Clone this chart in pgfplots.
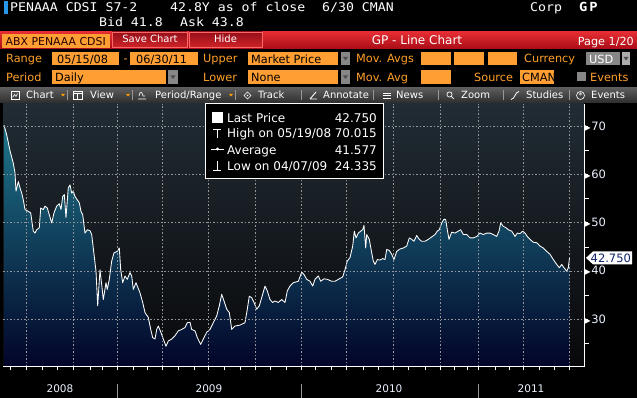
\documentclass[border=0pt]{standalone}
\usepackage{pgfplots}
\pgfplotsset{compat=1.18}
\usepackage{pgfplotstable}
\usepackage{fontspec}
\setmainfont{DejaVu Sans}
\newfontfamily\mono[FakeStretch=1.1]{DejaVu Sans Mono}
\definecolor{bbamber}{RGB}{255,160,40}
\definecolor{bbbox}{RGB}{255,158,50}
\definecolor{bbredtop}{RGB}{228,45,50}
\definecolor{bbredbot}{RGB}{170,12,22}
\definecolor{btntop}{RGB}{150,15,25}
\definecolor{btnbot}{RGB}{205,35,40}
\definecolor{tbtop}{RGB}{92,92,92}
\definecolor{tbbot}{RGB}{45,45,45}
\definecolor{plottop}{RGB}{33,44,52}
\definecolor{plotbot}{RGB}{8,8,10}
\definecolor{filltop}{RGB}{30,118,138}
\definecolor{fillmid}{RGB}{12,72,102}
\definecolor{fillbot}{RGB}{2,4,40}
\definecolor{gridc}{RGB}{150,150,155}
\definecolor{ticklab}{RGB}{235,242,255}
\definecolor{cursorc}{RGB}{40,150,235}
\definecolor{ddgrey}{RGB}{135,135,135}
\definecolor{lpnavy}{RGB}{15,35,110}
\definecolor{sepc}{RGB}{150,150,150}

\pgfplotstableread{
x y
4 70.3
6.7 68.3
10 65.0
13.3 62.4
15 60.4
16 56.6
18.3 58.6
20 57.3
21.7 56.2
23.3 54.8
25 52.8
28.3 52.4
30.7 52.1
33.3 48.3
35 47.9
36.7 48.6
39.3 49.0
40.7 53.1
43.3 52.8
45 53.5
47.3 53.1
49.3 51.7
51.7 50.0
54 52.1
56.7 53.5
59.3 54.0
61 52.8
62.7 55.5
64.3 55.9
66 51.1
68.3 57.3
70 57.9
71.7 56.2
73.3 56.6
75 55.5
77.3 54.8
79.3 54.2
81 52.4
82.7 51.7
85 47.9
87.3 48.6
90 48.4
91.7 47.6
94 43.5
96 40.0
97.7 32.8
100 40.3
101.7 37.2
103.3 34.1
106 37.6
107.3 36.2
109.3 38.3
111.7 42.1
114 43.8
117.3 44.1
119.3 44.8
120.7 40.3
122.7 37.6
125 39.0
127.3 38.3
130 39.7
131.7 39.0
133.3 36.2
136 37.6
137.3 36.9
140 35.5
142.7 33.5
145 31.4
148.3 30.4
150.7 27.9
152.7 26.2
155 25.9
156.7 27.9
158.3 28.6
160.7 27.4
163.3 25.9
166 24.4
168.3 25.5
171.7 25.9
175 26.6
178.3 27.6
181.7 27.9
185 28.3
187.3 29.3
190 29.4
191.7 27.9
195 27.6
197.3 26.2
200.7 24.8
203.3 25.9
206.7 27.3
210 27.9
213.3 29.3
216.7 30.7
219.3 32.8
221.7 35.2
224 33.8
226.7 32.1
229.3 31.4
231.7 27.9
235 28.6
240 28.8
245 29.3
247.3 32.1
249.3 34.8
251.7 34.5
254 33.5
256.7 32.1
259.3 32.8
261.7 34.5
265 36.9
267.3 35.9
270 34.1
272.7 33.5
275 33.8
278.3 33.5
281.7 34.1
285 33.5
287.3 35.9
290 36.9
293.3 37.6
298.3 37.9
301.7 39.8
304 39.3
306.7 38.3
310 37.9
312.7 36.9
315 38.3
318.3 39.0
320.7 37.9
324 38.4
327.3 38.3
331.7 37.9
335 37.9
339.3 38.4
342.7 38.8
345 40.3
347.3 42.1
350 42.8
352.7 45.2
354.3 48.3
356 46.9
358.3 47.9
360.7 48.3
362.7 48.6
364 49.5
365.7 44.8
366.7 47.6
369.3 46.6
371.7 43.8
373.3 42.1
375 41.4
377.3 42.4
380 42.3
382.7 42.6
385 42.4
386.7 44.5
389.3 44.3
391.7 43.5
394 42.4
396.7 44.1
400 44.6
403.3 44.8
406.7 45.2
409.3 46.9
411.7 46.6
414 46.2
416.7 47.4
419.3 46.6
421.7 46.2
425 46.2
428.3 46.6
431.7 47.1
435 47.6
437.3 48.3
439.3 48.6
441.7 50.0
444 50.8
445.7 50.7
447.3 48.6
449 46.6
451.7 48.1
455 47.9
458.3 48.3
460.7 48.6
463.3 47.6
466.7 47.6
470 46.9
473.3 46.9
476.7 47.2
480 47.9
483.3 47.6
486.7 47.9
490 47.9
493.3 47.6
496.7 47.2
499 48.3
500.7 50.0
503.3 49.3
506 49.0
508.3 48.6
511.7 48.3
515 47.2
517.3 47.9
520 47.8
522.7 48.3
525 47.9
527.3 47.2
530 46.6
533.3 46.0
536.7 45.9
540 45.2
543.3 44.8
546.7 44.1
550 43.5
553.3 42.4
556.7 41.4
559.3 40.7
561.7 41.4
564 40.7
566.7 40.0
568.3 40.7
569.5 42.75
}\pricedata

\begin{document}
\begin{tikzpicture}
\begin{scope}[x=1pt,y=1pt]
\fill[black] (0,0) rectangle (637,398);
\shade[top color=plottop, bottom color=plotbot] (3,294) rectangle (584,31);
\end{scope}
\useasboundingbox (0pt,0pt) rectangle (637pt,398pt);

% ---------- chart ----------
\begin{axis}[
  at={(3pt,294pt)}, anchor=north west,
  scale only axis, width=581pt, height=263pt,
  xmin=3, xmax=584, ymin=20.1, ymax=74.7,
  no markers,
  axis x line*=bottom, axis y line*=right,
  axis line style={white, line width=1pt},
  xtick={26.4,73.6,117.5,162.6,208.5,255.7,301.2,346.7,393.5,440.7,478.9,523.6,569.9},
  xticklabel=\empty,
  minor xtick={10.2,42.7,57.7,90.2,102.8,133.3,147.2,178.9,194.3,224.8,240.7,270.7,286.2,315.4,331.3,363,378.5,408.9,425.2,454.9,467,495.1,509.8,539.8,554.5},
  ytick={30,40,50,60,70},
  minor ytick={25,35,45,55,65},
  tick align=outside,
  major tick length=3.5pt, minor tick length=3.5pt,
  every tick/.style={white, line width=1pt},
  /pgf/number format/assume math mode=true,
  yticklabel style={anchor=west, inner sep=0pt, xshift=-3pt, text=ticklab, font=\fontsize{11.5}{12}\selectfont},
  yticklabel={\textcolor{white}{\fontsize{8}{8}\selectfont ▶}\hspace{0.5pt}\pgfmathprintnumber{\tick}},
]
\addplot[draw=none, top color=filltop, middle color=fillmid, bottom color=fillbot]
  table {\pricedata} -- (axis cs:569.5,20.1) -- (axis cs:4,20.1) -- cycle;
\addplot[white, line width=0.85pt, line join=round] table {\pricedata};
\coordinate (lp) at (axis cs:584,42.75);
\end{axis}

\begin{scope}[x=1pt,y=1pt]
% ---------- header ----------
\fill[cursorc] (3.5,397) rectangle (7.5,384);
\node[anchor=base west, inner sep=0, text=white, font=\mono\fontsize{12}{12}\selectfont] at (10,386) {PENAAA CDSI S7-2};
\node[anchor=base west, inner sep=0, text=white, font=\mono\fontsize{12}{12}\selectfont] at (170,386) {42.8Y as of close};
\node[anchor=base west, inner sep=0, text=white, font=\mono\fontsize{12}{12}\selectfont] at (322,386) {6/30 CMAN};
\node[anchor=base west, inner sep=0, text=white, font=\mono\fontsize{12}{12}\selectfont] at (530,386) {Corp};
\node[anchor=base west, inner sep=0, text=white, font=\mono\bfseries\fontsize{12.5}{12}\selectfont] at (579,386) {G\hspace{2pt}P};
\node[anchor=base west, inner sep=0, text=white, font=\mono\fontsize{12}{12}\selectfont] at (99,371) {Bid 41.8};
\node[anchor=base west, inner sep=0, text=white, font=\mono\fontsize{12}{12}\selectfont] at (180,371) {Ask 43.8};

% ---------- red bar ----------
\shade[top color=bbredtop, bottom color=bbredbot] (0,366) rectangle (637,349);
\fill[bbbox] (2,364) rectangle (110,350);
\node[anchor=base west, inner sep=0, text=black!85!red, font=\fontsize{10.9}{11}\selectfont] at (5.5,352.5) {ABX PENAAA CDSI};
\shade[top color=btntop, bottom color=btnbot, draw=red!60!white, line width=0.4pt] (112,366) rectangle (187,351);
\shade[top color=btntop, bottom color=btnbot, draw=red!60!white, line width=0.4pt] (189,366) rectangle (262,351);
\node[anchor=base, inner sep=0, text=white, font=\fontsize{10}{10}\selectfont] at (150,355.3) {Save Chart};
\node[anchor=base, inner sep=0, text=white, font=\fontsize{10}{10}\selectfont] at (225.5,355.3) {Hide};
\node[anchor=base, inner sep=0, text=white, font=\fontsize{12}{12}\selectfont] at (417,353) {GP - Line Chart};
\node[anchor=base east, inner sep=0, text=white, font=\fontsize{11.2}{11}\selectfont] at (634,352.3) {Page 1/20};

% ---------- option rows ----------
\tikzset{lab/.style={anchor=base west, inner sep=0, text=bbamber, font=\fontsize{11.3}{11}\selectfont},
         boxt/.style={anchor=base west, inner sep=0, text=black, font=\fontsize{11.3}{11}\selectfont}}
\node[lab] at (6,335) {Range};
\fill[bbbox] (52,346.3) rectangle (119,333);
\node[boxt] at (57,334.5) {05/15/08};
\node[lab] at (123.5,335) {-};
\fill[bbbox] (130,346.3) rectangle (198,333);
\node[boxt] at (136,334.5) {06/30/11};
\node[lab] at (203,335) {Upper};
\fill[bbbox] (248,346.3) rectangle (338,333);
\node[boxt] at (251,334.5) {Market Price};
\fill[ddgrey] (341,346.3) rectangle (350,333);
\fill[black!70] (343,341) -- (348,341) -- (345.5,337.5) -- cycle;
\node[lab] at (356,335) {Mov. Avgs};
\fill[bbbox] (421,346.3) rectangle (451,333);
\fill[bbbox] (454,346.3) rectangle (484,333);
\fill[bbbox] (488,346.3) rectangle (517,333);
\node[lab] at (524,335) {Currency};
\fill[ddgrey] (586,346.3) rectangle (620,333);
\node[anchor=base west, inner sep=0, text=white, font=\fontsize{11.3}{11}\selectfont] at (589,334.5) {USD};
\fill[ddgrey!70] (622,346.3) rectangle (630,333);
\fill[black!70] (623.5,341) -- (628.5,341) -- (626,337.5) -- cycle;
\node[lab] at (6,316.5) {Period};
\fill[bbbox] (52,328) rectangle (166,313.5);
\node[boxt] at (55,316) {Daily};
\fill[ddgrey] (168,328) rectangle (178,313.5);
\fill[black!70] (170.5,322.5) -- (175.5,322.5) -- (173,319) -- cycle;
\node[lab] at (203,316.5) {Lower};
\fill[bbbox] (248,328) rectangle (338,313.5);
\node[boxt] at (251,316) {None};
\fill[ddgrey] (341,328) rectangle (350,313.5);
\fill[black!70] (343,322.5) -- (348,322.5) -- (345.5,319) -- cycle;
\node[lab] at (356,316.5) {Mov. Avg};
\fill[bbbox] (421,328) rectangle (451,313.5);
\node[lab] at (474,316.5) {Source};
\fill[bbbox] (520,328) rectangle (554,313.5);
\node[boxt] at (522,316) {CMAN};
\fill[ddgrey] (577,326) rectangle (586,317);
\node[lab] at (590,316.5) {Events};

% ---------- toolbar ----------
\shade[top color=tbtop, bottom color=tbbot] (0,310) rectangle (637,295);
\foreach \sx in {67,132,235,301,373,438,503,569} {\draw[sepc, line width=0.7pt] (\sx,297.5) -- (\sx,307.5);}
\tikzset{tbt/.style={anchor=base west, inner sep=0, text=white, font=\fontsize{10}{10}\selectfont}}
\node[tbt] at (26,299) {Chart};
\node[tbt] at (90,299) {View};
\node[tbt] at (155,299) {Period/Range};
\node[tbt] at (258,299) {Track};
\node[tbt] at (323,299) {Annotate};
\node[tbt] at (396,299) {News};
\node[tbt] at (461,299) {Zoom};
\node[tbt] at (526,299) {Studies};
\node[tbt] at (591,299) {Events};
\foreach \ax in {63,128,231} {\fill[orange!80!yellow] (\ax-2,304) -- (\ax+2,304) -- (\ax,301.5) -- cycle;}
\draw[white, line width=0.6pt] (11,298.5) rectangle (19,306.5);
\draw[white, line width=0.6pt] (12.5,300.5) -- (14.5,303.5) -- (16,301.5) -- (17.5,304.5);
\draw[white, line width=0.6pt] (73,298.5) rectangle (82,306.5);
\draw[white, line width=0.6pt] (77.5,298.5) -- (77.5,304.5) (73,304.5) -- (82,304.5);
\draw[white, line width=0.6pt] (138,299) -- (146,299) (139,302) .. controls (140,307) and (142,307) .. (143,302) -- (145,302);
\draw[white, line width=0.6pt] (244,302.5) -- (247.5,306) -- (251,302.5) -- (247.5,299) -- cycle;
\fill[white] (247.5,302.5) circle (0.9);
\draw[white, line width=0.9pt] (310,299) -- (316,306) (310,299) -- (317,299);
\draw[white, line width=0.8pt] (383,305) -- (391,305) (383,302.5) -- (391,302.5) (383,300) -- (391,300);
\draw[white, line width=0.7pt] (449.5,303.5) circle (2.6) (451.3,301.6) -- (454,299);
\draw[white, line width=0.8pt] (511,298.5) .. controls (515,299) and (515,306) .. (519,306.5);
\draw[white, line width=0.6pt] (580.5,302.5) circle (4);
\node[text=white, inner sep=0, font=\fontsize{8}{8}\selectfont] at (580.5,302.2) {*};

% ---------- grid, axis lines and ticks (drawn after the bars) ----------
\draw[gridc, line width=1pt, dash pattern=on 1.5pt off 2pt]
  (26.4,31) -- (26.4,294) (73.6,31) -- (73.6,294) (117.5,31) -- (117.5,294)
  (162.6,31) -- (162.6,294) (208.5,31) -- (208.5,294) (255.7,31) -- (255.7,294)
  (301.2,31) -- (301.2,294) (346.7,31) -- (346.7,294) (393.5,31) -- (393.5,294)
  (440.7,31) -- (440.7,294) (478.9,31) -- (478.9,294) (523.6,31) -- (523.6,294)
  (569.9,31) -- (569.9,294)
  (3,78.69) -- (584,78.69) (3,126.85) -- (584,126.85) (3,175.02) -- (584,175.02)
  (3,223.19) -- (584,223.19) (3,271.36) -- (584,271.36);
\draw[white, line width=1pt] (3,31) -- (584,31) -- (584,294);
\draw[white, line width=0.9pt]
  (10.2,31) -- (10.2,27.5) (26.4,31) -- (26.4,27.5) (42.7,31) -- (42.7,27.5) (57.7,31) -- (57.7,27.5)
  (73.6,31) -- (73.6,27.5) (90.2,31) -- (90.2,27.5) (102.8,31) -- (102.8,27.5) (117.5,31) -- (117.5,27.5)
  (133.3,31) -- (133.3,27.5) (147.2,31) -- (147.2,27.5) (162.6,31) -- (162.6,27.5) (178.9,31) -- (178.9,27.5)
  (194.3,31) -- (194.3,27.5) (208.5,31) -- (208.5,27.5) (224.8,31) -- (224.8,27.5) (240.7,31) -- (240.7,27.5)
  (255.7,31) -- (255.7,27.5) (270.7,31) -- (270.7,27.5) (286.2,31) -- (286.2,27.5) (301.2,31) -- (301.2,27.5)
  (315.4,31) -- (315.4,27.5) (331.3,31) -- (331.3,27.5) (346.7,31) -- (346.7,27.5) (363,31) -- (363,27.5)
  (378.5,31) -- (378.5,27.5) (393.5,31) -- (393.5,27.5) (408.9,31) -- (408.9,27.5) (425.2,31) -- (425.2,27.5)
  (440.7,31) -- (440.7,27.5) (454.9,31) -- (454.9,27.5) (467,31) -- (467,27.5) (478.9,31) -- (478.9,27.5)
  (495.1,31) -- (495.1,27.5) (509.8,31) -- (509.8,27.5) (523.6,31) -- (523.6,27.5) (539.8,31) -- (539.8,27.5)
  (554.5,31) -- (554.5,27.5) (569.9,31) -- (569.9,27.5)
  (584,54.60) -- (588.5,54.60) (584,102.77) -- (588.5,102.77) (584,150.94) -- (588.5,150.94)
  (584,199.11) -- (588.5,199.11) (584,247.27) -- (588.5,247.27);

% summary box
\fill[black] (205,295) rectangle (383,220);
\draw[white, line width=0.8pt] (205,295) rectangle (383,220);
\tikzset{lgt/.style={anchor=base west, inner sep=0, text=white, font=\fontsize{12}{12}\selectfont},
         lgv/.style={anchor=base east, inner sep=0, text=white, font=\fontsize{12}{12}\selectfont}}
\fill[white] (212,286) rectangle (223,275);
\node[lgt] at (227,275) {Last Price};
\node[lgv] at (377,275) {42.750};
\draw[white, line width=0.8pt] (213,269) -- (221,269) (217,269) -- (217,260);
\node[lgt] at (227,260) {High on 05/19/08};
\node[lgv] at (377,260) {70.015};
\draw[white, line width=0.8pt] (211,249) -- (224,249);
\fill[white] (217.5,249) circle (1.6);
\node[lgt] at (227,243.5) {Average};
\node[lgv] at (377,243.5) {41.577};
\draw[white, line width=0.8pt] (217,237) -- (217,227.5) (213,227.5) -- (221,227.5);
\node[lgt] at (227,227) {Low on 04/07/09};
\node[lgv] at (377,227) {24.335};

% year band
\draw[sepc, line width=0.9pt] (117.5,0) -- (117.5,14) (301.2,0) -- (301.2,14) (478.9,0) -- (478.9,14);
\tikzset{yr/.style={anchor=base, inner sep=0, text=ticklab, font=\fontsize{10.5}{11}\selectfont}}
\node[yr] at (60,5) {2008};
\node[yr] at (209,5) {2009};
\node[yr] at (389,5) {2010};
\node[yr] at (531,5) {2011};
\end{scope}

% last price label
\fill[white] ([xshift=2pt]lp) -- ([xshift=9pt,yshift=6.5pt]lp) -- ([xshift=48pt,yshift=6.5pt]lp) -- ([xshift=48pt,yshift=-6.5pt]lp) -- ([xshift=9pt,yshift=-6.5pt]lp) -- cycle;
\node[anchor=west, inner sep=0, text=lpnavy, font=\fontsize{11.5}{12}\selectfont] at ([xshift=6.5pt]lp) {42.750};
\end{tikzpicture}
\end{document}
